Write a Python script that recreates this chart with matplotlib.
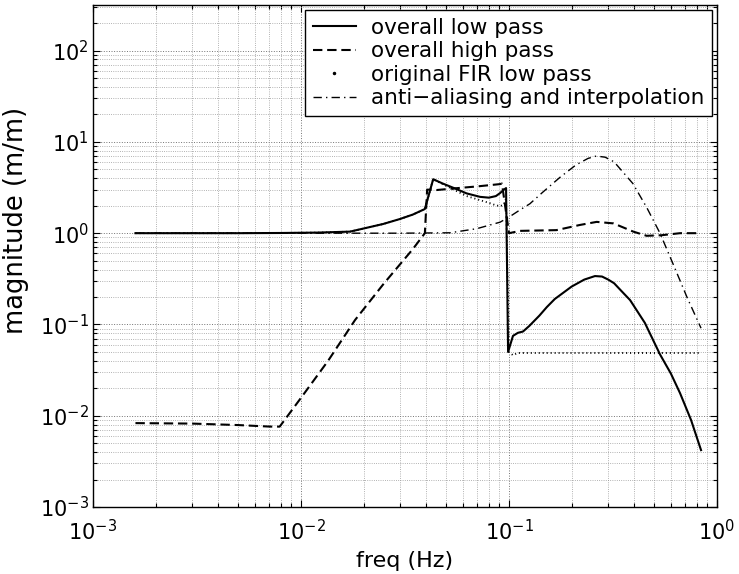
import matplotlib
matplotlib.use("Agg")
import matplotlib.pyplot as plt
from matplotlib.lines import Line2D

plt.rcParams['font.family'] = ['DejaVu Sans']
plt.rcParams['mathtext.fontset'] = 'dejavusans'

# ---- data ----
lp_freq = [0.0016, 0.003, 0.005, 0.008, 0.012, 0.0172, 0.0248, 0.0299, 0.0345, 0.0394,
           0.0432, 0.048, 0.055, 0.0625, 0.0726, 0.080, 0.0865, 0.0906, 0.0945, 0.0968,
           0.0990, 0.1045, 0.1104, 0.1167, 0.125, 0.140, 0.152, 0.166, 0.200, 0.230,
           0.259, 0.280, 0.300, 0.320, 0.350, 0.382, 0.450, 0.532, 0.600, 0.664, 0.750, 0.838]
lp_mag = [1.0, 1.0, 1.0, 1.005, 1.015, 1.04, 1.26, 1.43, 1.6, 1.84,
          3.9, 3.5, 3.09, 2.73, 2.5, 2.45, 2.55, 2.75, 3.0, 3.12,
          0.050, 0.075, 0.081, 0.0836, 0.096, 0.125, 0.155, 0.19, 0.26, 0.31,
          0.339, 0.335, 0.31, 0.283, 0.228, 0.185, 0.104, 0.047, 0.029, 0.0177, 0.009, 0.0042]

hp_freq = [0.0016, 0.003, 0.005, 0.0071, 0.0079, 0.010, 0.0135, 0.0182, 0.025, 0.0345,
           0.0394, 0.0404, 0.0449, 0.055, 0.070, 0.0906, 0.0925, 0.1000, 0.113, 0.169,
           0.219, 0.264, 0.318, 0.396, 0.459, 0.542, 0.664, 0.828]
hp_mag = [0.0083, 0.0082, 0.0079, 0.0076, 0.0076, 0.0157, 0.040, 0.112, 0.28, 0.67,
          1.0, 3.0, 2.97, 3.1, 3.25, 3.45, 3.5, 1.0, 1.06, 1.08,
          1.23, 1.33, 1.28, 1.04, 0.936, 0.95, 1.0, 1.0]

fir_freq = [0.0016, 0.003, 0.005, 0.008, 0.012, 0.0172, 0.0248, 0.0299, 0.0345, 0.0394,
            0.0432, 0.048, 0.055, 0.0625, 0.0726, 0.080, 0.0865, 0.0906, 0.0945, 0.0968,
            0.1000, 0.1045, 0.110, 0.200, 0.400, 0.838]
fir_mag = [1.0, 1.0, 1.0, 1.005, 1.015, 1.04, 1.26, 1.43, 1.6, 1.84,
           3.9, 3.45, 2.95, 2.55, 2.3, 2.15, 2.02, 1.98, 2.05, 2.4,
           0.050, 0.046, 0.0487, 0.0487, 0.0487, 0.0487]

aa_freq = [0.0016, 0.005, 0.010, 0.030, 0.052, 0.070, 0.0906, 0.100, 0.113, 0.126,
           0.145, 0.176, 0.210, 0.240, 0.263, 0.290, 0.320, 0.394, 0.460, 0.532,
           0.620, 0.720, 0.838]
aa_mag = [1.0, 1.0, 1.0, 1.0, 1.01, 1.12, 1.32, 1.5, 1.8, 2.1,
          2.8, 4.1, 5.6, 6.6, 7.0, 6.8, 6.05, 3.5, 1.9, 1.0,
          0.44, 0.195, 0.091]

labels = ['overall low pass', 'overall high pass', 'original FIR low pass',
          'anti\u2212aliasing and interpolation']

DASH = (0, (4.5, 2.3))
DASHDOT = (0, (6, 3, 1, 3))

# ---- figure ----
fig = plt.figure(figsize=(7.39, 5.74), dpi=100)
ax = fig.add_axes([93/739, 1 - 507/574, (717-93)/739, (507-5)/574])

ax.loglog(lp_freq, lp_mag, color='k', lw=1.5, ls='-')
ax.loglog(hp_freq, hp_mag, color='k', lw=1.5, ls=DASH)
ax.loglog(fir_freq, fir_mag, color='k', lw=1.3, ls=(0, (0.6, 1.6)))
ax.loglog(aa_freq, aa_mag, color='k', lw=1.0, ls=DASHDOT)

ax.set_xlim(1e-3, 1e0)
ax.set_ylim(1e-3, 10**2.5)

ax.grid(True, which='major', color='0.45', ls=':', lw=0.7)
ax.grid(True, which='minor', color='0.6', ls=':', lw=0.6)

ax.tick_params(which='both', direction='in', top=True, right=True, labelsize=15, width=0.8)
ax.tick_params(which='major', length=5)
ax.tick_params(which='minor', length=3)
ax.tick_params(axis='x', which='major', pad=9)
ax.tick_params(axis='y', which='major', pad=3)
for s in ax.spines.values():
    s.set_linewidth(1.0)

ax.set_xlabel('freq (Hz)', fontsize=16)
ax.set_ylabel('magnitude (m/m)', fontsize=18.5)
ax.xaxis.set_label_coords(0.5, -0.088)
ax.yaxis.set_label_coords(-0.103, 0.57)

handles = [
    Line2D([], [], color='k', lw=1.5, ls='-'),
    Line2D([], [], color='k', lw=1.5, ls=DASH),
    Line2D([], [], color='k', ls='none', marker='.', ms=3),
    Line2D([], [], color='k', lw=1.0, ls=DASHDOT),
]
leg = ax.legend(handles, labels, loc='upper right', fontsize=15.5, frameon=True,
                fancybox=False, framealpha=1, edgecolor='k', handlelength=2.0,
                handletextpad=0.7, labelspacing=0.16, borderpad=0.35,
                borderaxespad=0.25)
leg.get_frame().set_linewidth(1.0)

fig.savefig('out.png', dpi=100)
